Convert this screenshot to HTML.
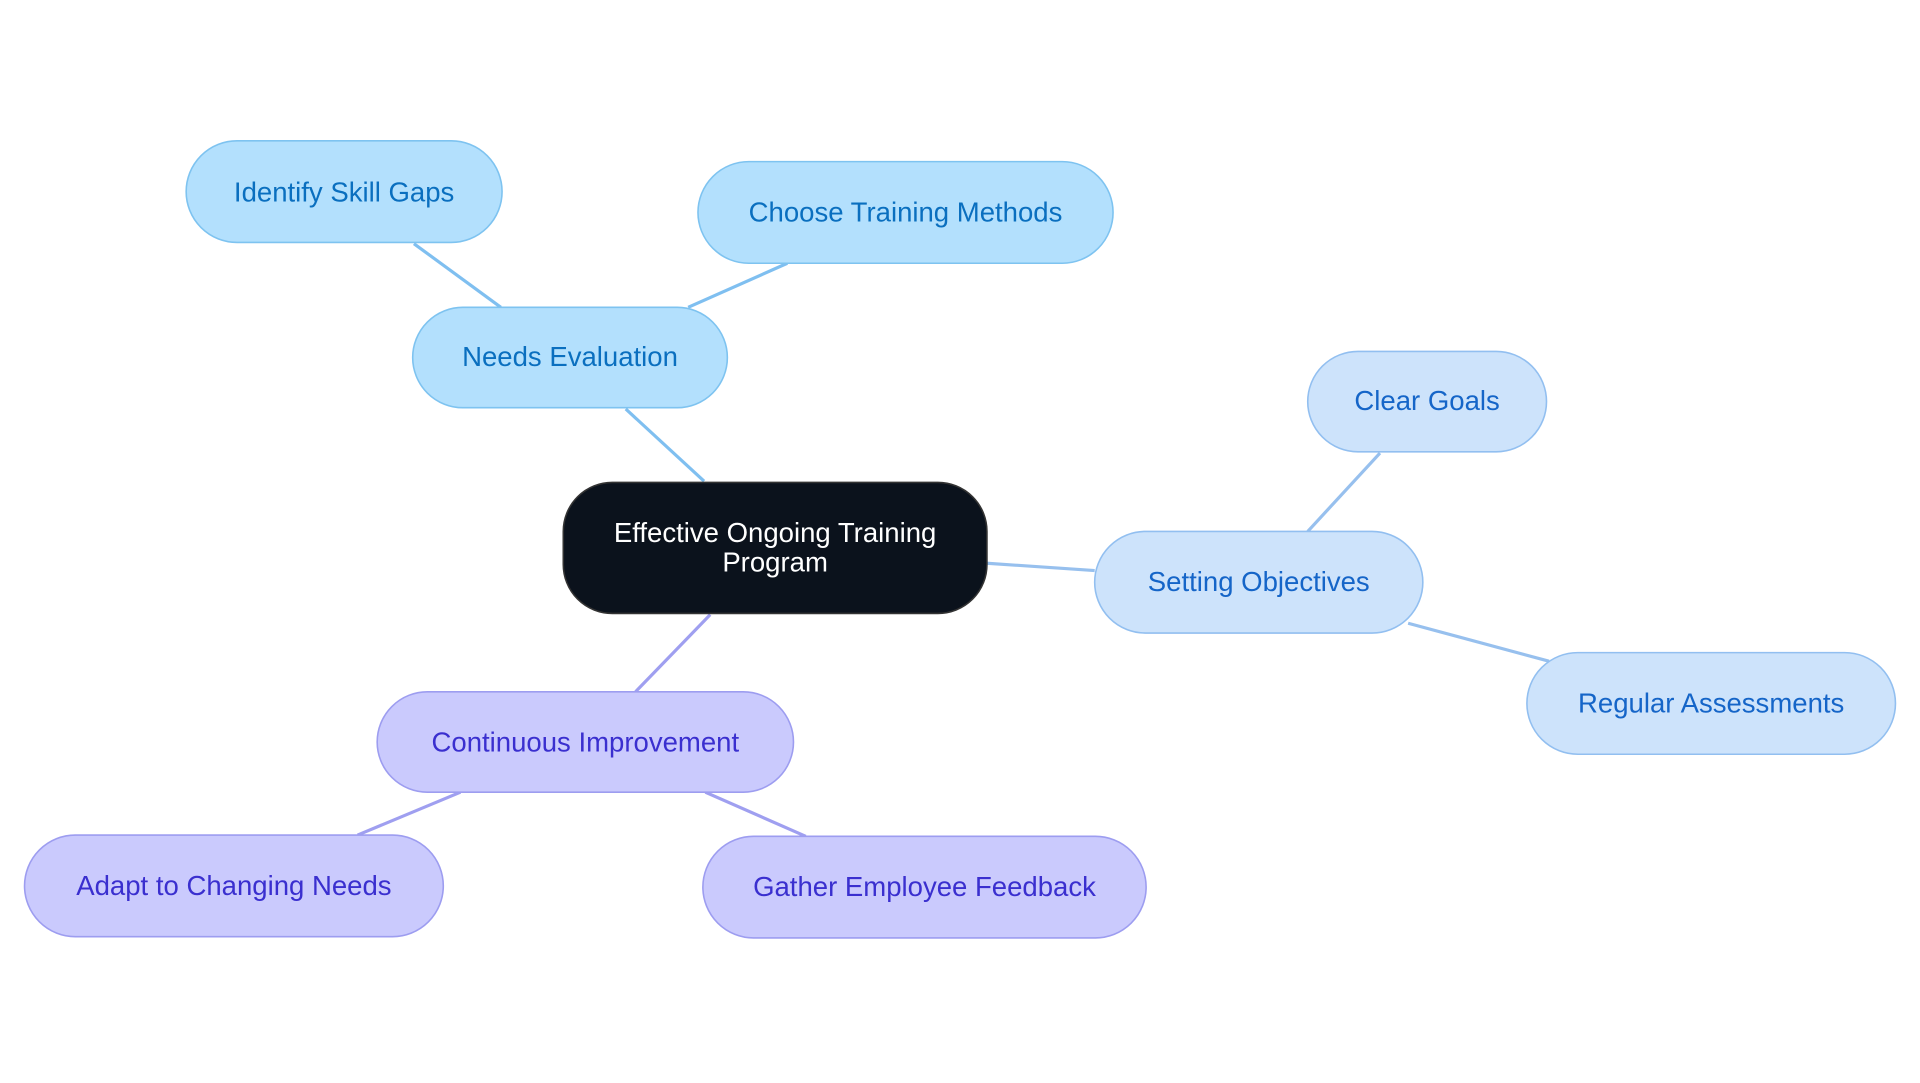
<!DOCTYPE html>
<html><head><meta charset="utf-8"><style>
html,body{margin:0;padding:0;background:#fff;width:1920px;height:1083px;overflow:hidden}
svg{display:block}
text{font-family:"Liberation Sans",sans-serif;font-size:22.5px;text-anchor:middle;dominant-baseline:central}
</style></head><body>
<svg width="1920" height="1083" viewBox="0 0 1568 884.5">
<g stroke-width="2.6" fill="none">
<line x1="575" y1="393" x2="511" y2="334" stroke="#7fbff0"/>
<line x1="409" y1="251" x2="338" y2="199" stroke="#7fbff0"/>
<line x1="562" y1="251" x2="643" y2="215" stroke="#7fbff0"/>
<line x1="806" y1="460" x2="894" y2="466" stroke="#97c0ee"/>
<line x1="1068" y1="434" x2="1127" y2="370" stroke="#97c0ee"/>
<line x1="1150" y1="509" x2="1265" y2="540" stroke="#97c0ee"/>
<line x1="580" y1="502" x2="519" y2="565" stroke="#9f9ff0"/>
<line x1="376" y1="647" x2="292" y2="682" stroke="#9f9ff0"/>
<line x1="576" y1="647" x2="658" y2="683" stroke="#9f9ff0"/>
</g>
<g stroke-width="1.3">
<rect x="152" y="115" width="258" height="83" rx="41.5" fill="#b3e0fd" stroke="#7ec3f0"/>
<rect x="570" y="132" width="339" height="83" rx="41.5" fill="#b3e0fd" stroke="#7ec3f0"/>
<rect x="337" y="251" width="257" height="82" rx="41" fill="#b3e0fd" stroke="#7ec3f0"/>
<rect x="1068" y="287" width="195" height="82" rx="41" fill="#cde3fb" stroke="#92bff0"/>
<rect x="894" y="434" width="268" height="83" rx="41.5" fill="#cde3fb" stroke="#92bff0"/>
<rect x="1247" y="533" width="301" height="83" rx="41.5" fill="#cde3fb" stroke="#92bff0"/>
<rect x="308" y="565" width="340" height="82" rx="41" fill="#cacafd" stroke="#9d9df0"/>
<rect x="20" y="682" width="342" height="83" rx="41.5" fill="#cacafd" stroke="#9d9df0"/>
<rect x="574" y="683" width="362" height="83" rx="41.5" fill="#cacafd" stroke="#9d9df0"/>
<rect x="460" y="394" width="346" height="107" rx="40" fill="#0b121c" stroke="#333"/>
</g>
<g fill="#0a6fbf">
<text x="281" y="157">Identify Skill Gaps</text>
<text x="739.5" y="173">Choose Training Methods</text>
<text x="465.5" y="291">Needs Evaluation</text>
</g>
<g fill="#1565c8">
<text x="1165.5" y="327">Clear Goals</text>
<text x="1028" y="475">Setting Objectives</text>
<text x="1397.5" y="574">Regular Assessments</text>
</g>
<g fill="#3a2fcf">
<text x="478" y="606">Continuous Improvement</text>
<text x="191" y="723">Adapt to Changing Needs</text>
<text x="755" y="724">Gather Employee Feedback</text>
</g>
<g fill="#fff" style="font-size:22px">
<text x="633" y="435">Effective Ongoing Training</text>
<text x="633" y="459">Program</text>
</g>
</svg>
</body></html>
